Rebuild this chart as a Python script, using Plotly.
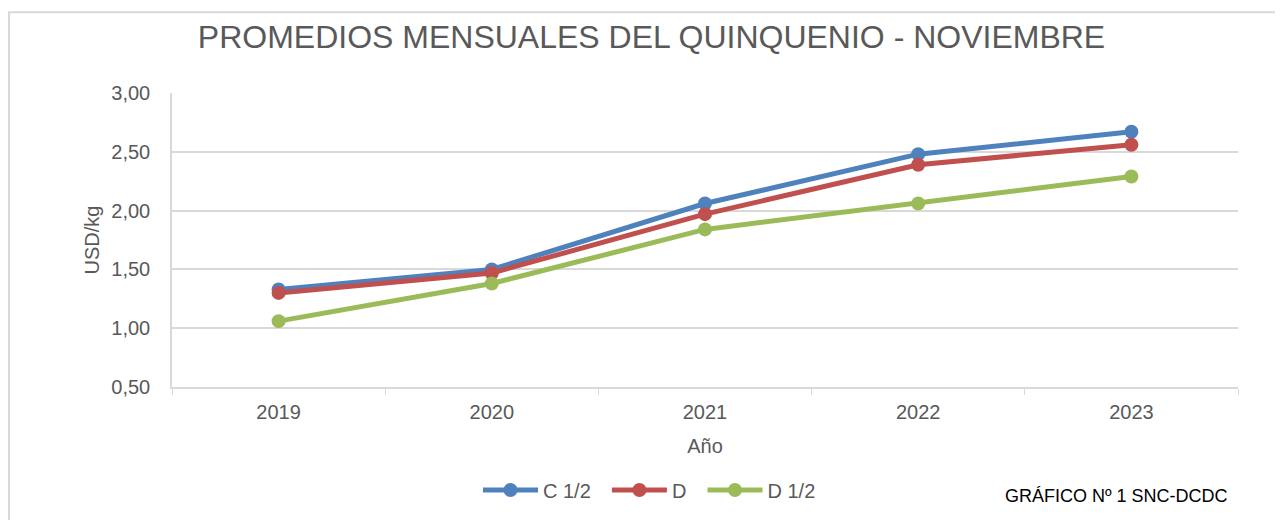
import plotly.graph_objects as go

years = ["2019", "2020", "2021", "2022", "2023"]
c_half = [1.33, 1.50, 2.06, 2.48, 2.67]
d_full = [1.30, 1.47, 1.97, 2.39, 2.56]
d_half = [1.06, 1.38, 1.84, 2.06, 2.29]

series = [("C 1/2", c_half, "#4F81BD"), ("D", d_full, "#C0504D"), ("D 1/2", d_half, "#9BBB59")]

fig = go.Figure()
for i, (name, vals, col) in enumerate(series):
    label = name + ("\u00a0\u00a0" if i < len(series) - 1 else "")
    fig.add_trace(go.Scatter(x=years, y=vals, name=label, mode="lines+markers",
                             line=dict(color=col, width=5),
                             marker=dict(color=col, size=14)))

OFF = 8  # page body margin
W, H = 1283 - OFF, 520 - OFF
L, T = 172 - OFF, 93 - OFF
R = W - (1238 - OFF)
B = H - (388 - OFF)
pw, ph = W - L - R, H - T - B

def px(x):
    return (x - OFF - L) / pw

def py(y):
    return (H - B - (y - OFF)) / ph

fig.update_layout(
    width=W, height=H,
    margin=dict(l=L, r=R, t=T, b=B),
    paper_bgcolor="white", plot_bgcolor="white",
    separators=",.",
    font=dict(family="Liberation Sans, Arial, sans-serif", color="#595959", size=20),
    title=dict(text="PROMEDIOS MENSUALES DEL QUINQUENIO - NOVIEMBRE",
               x=((199 + 1104) / 2 - OFF) / W, xanchor="center", y=1 - (37 - OFF) / H, yanchor="middle",
               font=dict(size=32, color="#595959")),
    showlegend=True,
    legend=dict(orientation="h", x=px(478), xanchor="left", y=py(490), yanchor="middle",
                font=dict(size=20, color="#595959"), itemwidth=55, traceorder="normal"),
    xaxis=dict(type="category", range=[-0.5, 4.5], showgrid=False,
               showline=True, linecolor="#D9D9D9", linewidth=1.5,
               ticks="outside", tickson="boundaries", ticklen=6, tickcolor="#D9D9D9",
               ticklabelstandoff=6,
               title=dict(text="Año", font=dict(size=20, color="#595959"), standoff=17),
               tickfont=dict(size=20, color="#595959")),
    yaxis=dict(range=[0.5, 3.0], dtick=0.5, tick0=0.5, tickformat=".2f",
               showgrid=True, gridcolor="#D9D9D9", gridwidth=1.5,
               showline=True, linecolor="#D9D9D9", linewidth=1.5, zeroline=False,
               ticks="", ticklabelstandoff=16,
               title=dict(text="USD/kg", font=dict(size=20, color="#595959"), standoff=6),
               tickfont=dict(size=20, color="#595959")),
)

fig.add_shape(type="rect", xref="paper", yref="paper",
              x0=px(9), x1=px(1300), y0=py(540), y1=py(12),
              line=dict(color="#D9D9D9", width=2), fillcolor="rgba(0,0,0,0)", layer="below")

fig.add_annotation(text="GRÁFICO Nº 1 SNC-DCDC", xref="paper", yref="paper",
                   x=px(1116), y=py(497), xanchor="center", yanchor="middle",
                   showarrow=False, font=dict(size=18, color="#000000"))

fig.write_html("out.html")
